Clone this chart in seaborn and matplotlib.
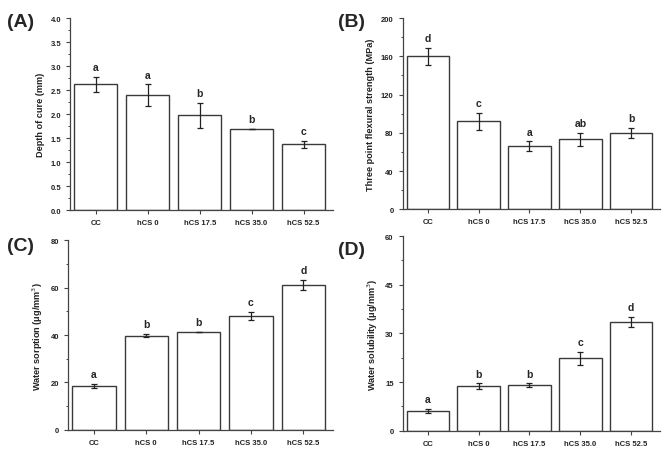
import matplotlib
matplotlib.use("Agg")
import matplotlib.pyplot as plt
import seaborn as sns
import pandas as pd
from matplotlib.ticker import MultipleLocator, AutoMinorLocator

groups = ["CC", "hCS 0", "hCS 17.5", "hCS 35.0", "hCS 52.5"]

cure_mean = [2.62, 2.40, 1.98, 1.70, 1.37]
cure_sd = [0.15, 0.22, 0.26, 0.0, 0.08]
cure_sig = ["a", "a", "b", "b", "c"]

flex_mean = [160, 92, 66, 73, 80]
flex_sd = [9, 9, 5, 7, 5]
flex_sig = ["d", "c", "a", "ab", "b"]

sorp_mean = [18.5, 39.8, 41.3, 48.2, 61.2]
sorp_sd = [0.8, 0.6, 0.2, 1.7, 2.2]
sorp_sig = ["a", "b", "b", "c", "d"]

solu_mean = [6.1, 13.8, 14.0, 22.3, 33.5]
solu_sd = [0.6, 0.8, 0.6, 2.0, 1.6]
solu_sig = ["a", "b", "b", "c", "d"]

sns.set_style("ticks")
plt.rcParams["font.family"] = ["Liberation Sans", "DejaVu Sans"]

fig = plt.figure(figsize=(6.69, 4.56), dpi=100)

# tag, values, errors, letters, y label, y max, step, axes box, tag position
panels = [
    ("(A)", cure_mean, cure_sd, cure_sig, "Depth of cure (mm)", 4.0, 0.5,
     [0.105, 0.537, 0.393, 0.421], (0.010, 0.950)),
    ("(B)", flex_mean, flex_sd, flex_sig, "Three point flexural strength (MPa)", 200, 40,
     [0.602, 0.539, 0.385, 0.419], (0.505, 0.950)),
    ("(C)", sorp_mean, sorp_sd, sorp_sig, "Water sorption (\u03bcg/mm$^3$)", 80, 20,
     [0.102, 0.055, 0.396, 0.416], (0.010, 0.460)),
    ("(D)", solu_mean, solu_sd, solu_sig, "Water solubility (\u03bcg/mm$^3$)", 60, 15,
     [0.602, 0.053, 0.385, 0.427], (0.505, 0.450)),
]

edge = "#3a3a3a"
for tag, mean, sd, sig, ylabel, ymax, step, pos, tagpos in panels:
    ax = fig.add_axes(pos)
    df = pd.DataFrame({"group": groups, "value": mean})
    sns.barplot(data=df, x="group", y="value", color="white", edgecolor=edge,
                linewidth=1.0, width=0.83, errorbar=None, ax=ax)
    ax.errorbar(range(len(groups)), mean, yerr=sd, fmt="none", ecolor="#222222",
                elinewidth=0.9, capsize=2.2, capthick=0.9)
    for i, (m, s, lab) in enumerate(zip(mean, sd, sig)):
        ax.text(i, m + s + ymax * 0.025, lab, ha="center", va="bottom",
                fontsize=7.5, fontweight="bold")
    ax.set_ylim(0, ymax)
    ax.set_xlim(-0.49, 4.57)
    ax.yaxis.set_major_locator(MultipleLocator(step))
    ax.yaxis.set_minor_locator(AutoMinorLocator(2))
    if ymax == 4.0:
        ax.yaxis.set_major_formatter(matplotlib.ticker.FormatStrFormatter("%.1f"))
    ax.set_xlabel("")
    ax.set_ylabel(ylabel, fontsize=6.6, fontweight="bold", color="#222222")
    sns.despine(ax=ax)
    for sp in ["left", "bottom"]:
        ax.spines[sp].set_color("#444444")
        ax.spines[sp].set_linewidth(0.9)
    ax.tick_params(axis="both", which="major", labelsize=5.5, length=3, width=0.8,
                   color="#444444", labelcolor="#222222")
    ax.tick_params(axis="y", which="minor", length=1.8, width=0.7, color="#444444")
    for t in ax.get_xticklabels() + ax.get_yticklabels():
        t.set_fontweight("bold")
    fig.text(tagpos[0], tagpos[1], tag, fontsize=14,
             fontweight="bold", ha="left", va="center")

fig.savefig("out.png", dpi=100, facecolor="white")
